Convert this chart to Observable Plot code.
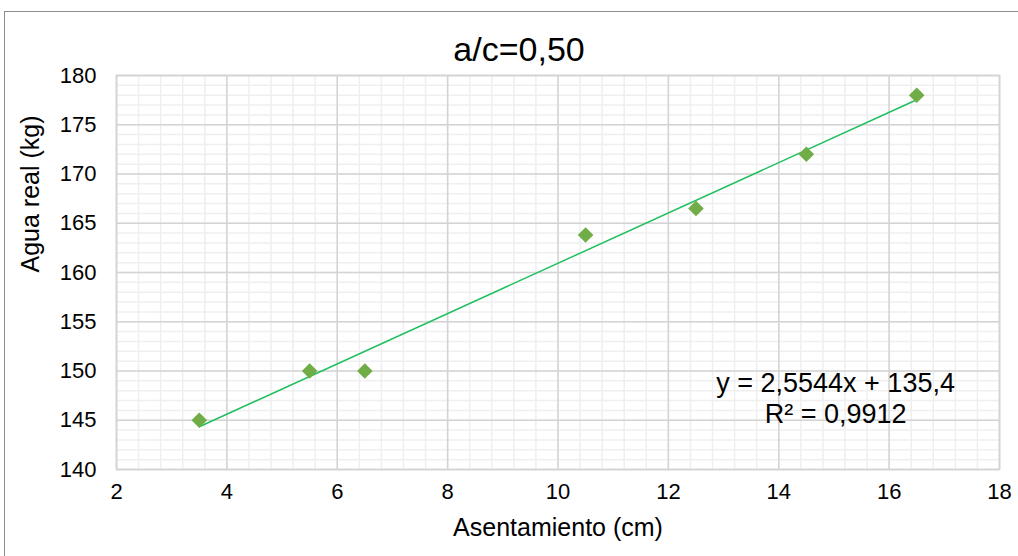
<!DOCTYPE html>
<html><head><meta charset="utf-8">
<script src="https://cdn.jsdelivr.net/npm/d3@7"></script>
<script src="https://cdn.jsdelivr.net/npm/@observablehq/plot@0.6"></script>
<style>
body{margin:0;background:#fff;font-family:"Liberation Sans",Arial,sans-serif;}
#wrap{position:relative;width:1018px;height:556px;overflow:hidden;}
#border{position:absolute;left:4px;top:11px;width:1020px;height:560px;border:1px solid #8c8c8c;box-sizing:border-box;pointer-events:none;}
</style></head>
<body><div id="wrap"><div id="border"></div></div>
<script>
const title = "a/c=0,50";
const xLabel = "Asentamiento (cm)";
const yLabel = "Agua real (kg)";
const asentamiento = [3.5, 5.5, 6.5, 10.5, 12.5, 14.5, 16.5];
const aguaReal = [145, 150, 150, 163.8, 166.5, 172, 178];
const xTicks = [2, 4, 6, 8, 10, 12, 14, 16, 18];
const yTicks = [140, 145, 150, 155, 160, 165, 170, 175, 180];
const xMinor = d3.range(2, 18.001, 0.4);
const yMinor = d3.range(140, 180.001, 1);
const eqLines = ["y = 2,5544x + 135,4", "R² = 0,9912"];
const eqX = [15.03, 15.03];
const eqY = [148.7, 145.6];

const data = asentamiento.map((x, i) => ({x, y: aguaReal[i]}));
const eq = eqLines.map((t, i) => ({t, x: eqX[i], y: eqY[i]}));

const chart = Plot.plot({
  width: 1018, height: 556,
  marginLeft: 116, marginRight: 19, marginTop: 75, marginBottom: 87,
  style: {fontFamily: '"Liberation Sans", Arial, sans-serif', fontSize: "22px", color: "#000", background: "transparent"},
  x: {domain: [2, 18], label: null},
  y: {domain: [140, 180], label: null},
  marks: [
    Plot.ruleX(xMinor, {stroke: "#efefef", strokeWidth: 1.5}),
    Plot.ruleY(yMinor, {stroke: "#efefef", strokeWidth: 1.5}),
    Plot.ruleX(xTicks, {stroke: "#d4d4d4", strokeWidth: 1.5}),
    Plot.ruleY(yTicks, {stroke: "#d4d4d4", strokeWidth: 1.5}),
    Plot.frame({stroke: "#d4d4d4", strokeWidth: 1.5}),
    Plot.axisX({ticks: xTicks, tickSize: 0, tickPadding: 14, fontSize: 22, label: null}),
    Plot.axisY({ticks: yTicks, tickSize: 0, tickPadding: 20, fontSize: 22, label: null}),
    Plot.linearRegressionY(data, {x: "x", y: "y", ci: 0, stroke: "#1fbf5f", strokeWidth: 1.5}),
    Plot.dot(data, {x: "x", y: "y", symbol: "diamond2", r: 7, fill: "#70ad47", stroke: "none"}),
    Plot.text(eq, {x: "x", y: "y", text: "t", fontSize: 27, fill: "#000"}),
    Plot.text([title], {frameAnchor: "top", dx: -39, dy: -39, fontSize: 34, fill: "#000"}),
    Plot.text([xLabel], {frameAnchor: "bottom", dy: 66, fontSize: 25, fill: "#000"}),
    Plot.text([yLabel], {frameAnchor: "left", dx: -86, rotate: -90, fontSize: 25, fill: "#000"})
  ]
});
document.getElementById("wrap").appendChild(chart);
chart.style.position = "absolute"; chart.style.left = "0"; chart.style.top = "0";
</script></body></html>
